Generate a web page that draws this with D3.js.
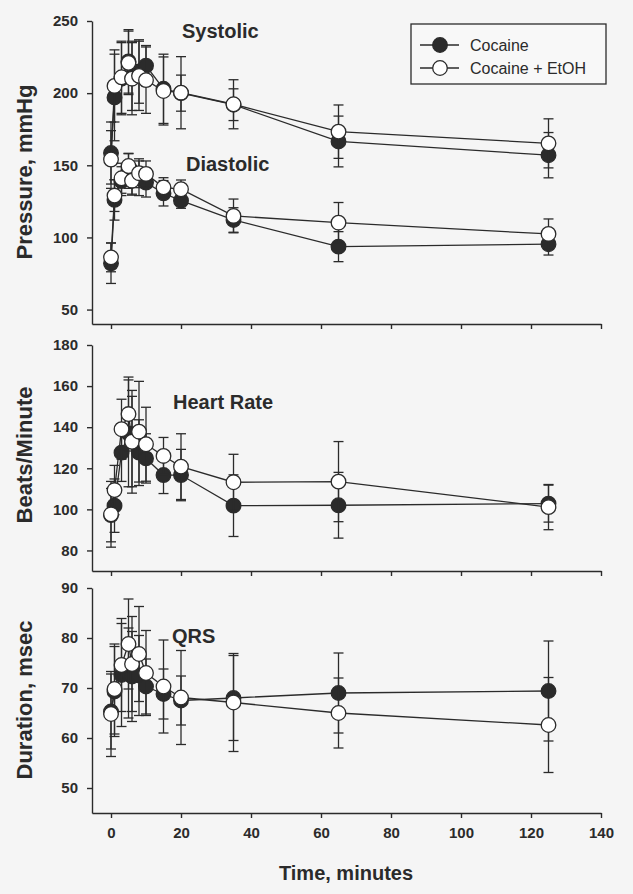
<!DOCTYPE html>
<html><head><meta charset="utf-8">
<script src="https://cdn.jsdelivr.net/npm/d3@7"></script>
<style>
html,body{margin:0;padding:0;background:#f5f5f5;}
svg{display:block;}
</style></head>
<body>
<script>
// ---- data ----
const times = [0, 1, 3, 5, 6, 8, 10, 15, 20, 35, 65, 125];

const sysCoc    = [158.5, 197, 210, 222, 212, 215, 219, 203, 200, 192, 166.5, 157];
const sysCocSD  = [21.5, 30, 25, 22, 24, 22, 14, 24, 12.5, 11, 17.6, 15.7];
const sysEtoh   = [154, 205, 211, 221, 210, 212, 209, 201.5, 200.3, 192.3, 173.3, 165.2];
const sysEtohSD = [20, 25, 25, 22, 25, 24, 23, 23.6, 25, 17, 18.5, 17];

const diaCoc    = [82.1, 126, 139, 146, 140, 141, 138, 130.6, 125.5, 112.1, 93.6, 95.3];
const diaCocSD  = [14, 14, 10, 12, 10, 12, 10, 8.8, 5.3, 8.5, 10.4, 7.5];
const diaEtoh   = [86.2, 129, 141, 149.5, 139.3, 144.5, 144, 134.7, 133.4, 114.9, 110.2, 102.4];
const diaEtohSD = [10, 11, 10.4, 8.8, 10, 10, 9, 6.7, 6.4, 11.7, 14, 10.4];

const hrCoc    = [97.2, 101.8, 127.6, 137, 133, 127.6, 124.8, 116.7, 116.7, 101.8, 102, 102.8];
const hrCocSD  = [13, 13, 14, 26, 22, 16, 12, 9, 12.5, 15, 16, 9];
const hrEtoh   = [97.6, 109.4, 139, 146.4, 132.9, 137.8, 131.7, 126, 120.8, 113.2, 113.5, 101.1];
const hrEtohSD = [16, 12, 14.6, 18, 25, 24.5, 18, 9, 16, 13.6, 19.5, 11];

const qrsCoc    = [65.3, 69.3, 72.6, 73, 72.3, 72.5, 70.3, 68.8, 67.5, 68, 69, 69.4];
const qrsCocSD  = [7.5, 9, 10.3, 9, 9, 8, 5.5, 5, 4.9, 8.5, 8, 10];
const qrsEtoh   = [64.8, 69.8, 74.6, 78.8, 74.8, 76.8, 73, 70.3, 68.1, 67.1, 65, 62.6];
const qrsEtohSD = [8.5, 9, 9.3, 9, 9.5, 9.5, 8.5, 9.3, 9.4, 9.8, 7, 9.5];

const xTicks = [0, 20, 40, 60, 80, 100, 120, 140];
const pressureTicks = [50, 100, 150, 200, 250];
const hrTicks = [80, 100, 120, 140, 160, 180];
const qrsTicks = [50, 60, 70, 80, 90];

const seriesNames = ["Cocaine", "Cocaine + EtOH"];
const panelTitles = ["Pressure, mmHg", "Beats/Minute", "Duration, msec"];
const xTitle = "Time, minutes";

// ---- layout ----
const W = 633, H = 894;
const ink = "#2b2b2b";
const svg = d3.select("body").append("svg").attr("width", W).attr("height", H)
  .style("font-family", "'Liberation Sans', Arial, sans-serif");
svg.append("rect").attr("width", W).attr("height", H).attr("fill", "#f5f5f5");

const x = d3.scaleLinear().domain([-5.43, 140]).range([92, 601]);

const panels = [
  {y: d3.scaleLinear().domain([40, 250]).range([324, 21]), ticks: pressureTicks, title: panelTitles[0], tcy: 172,
   groups: [
     {label: "Systolic", lx: 182, ly: 38, coc: sysCoc, cocSD: sysCocSD, et: sysEtoh, etSD: sysEtohSD},
     {label: "Diastolic", lx: 186, ly: 171, coc: diaCoc, cocSD: diaCocSD, et: diaEtoh, etSD: diaEtohSD}
   ]},
  {y: d3.scaleLinear().domain([70, 180]).range([571, 345]), ticks: hrTicks, title: panelTitles[1], tcy: 455,
   groups: [{label: "Heart Rate", lx: 173, ly: 409, coc: hrCoc, cocSD: hrCocSD, et: hrEtoh, etSD: hrEtohSD}]},
  {y: d3.scaleLinear().domain([45, 90]).range([813, 588]), ticks: qrsTicks, title: panelTitles[2], tcy: 700, last: true,
   groups: [{label: "QRS", lx: 172, ly: 643, coc: qrsCoc, cocSD: qrsCocSD, et: qrsEtoh, etSD: qrsEtohSD}]}
];

function styleAxis(g) {
  g.selectAll("path").attr("stroke", ink).attr("stroke-width", 1.4);
  g.selectAll("line").attr("stroke", ink).attr("stroke-width", 1.4);
  g.selectAll("text").attr("fill", ink).style("font-weight", "bold").style("font-size", "15px")
    .style("font-family", "'Liberation Sans', Arial, sans-serif");
}

const line = (y) => d3.line().x((d) => x(d.t)).y((d) => y(d.v));

function drawSeries(g, y, vals, sds, filled) {
  const data = times.map((t, i) => ({t, v: vals[i], sd: sds[i]}));
  g.append("path").datum(data).attr("d", line(y)).attr("fill", "none")
    .attr("stroke", ink).attr("stroke-width", 1.3);
  const eb = g.append("g").attr("stroke", ink).attr("stroke-width", 1.3);
  data.forEach((d) => {
    const cx = x(d.t), y1 = y(d.v + d.sd), y2 = y(d.v - d.sd);
    eb.append("line").attr("x1", cx).attr("x2", cx).attr("y1", y1).attr("y2", y2);
    eb.append("line").attr("x1", cx - 5).attr("x2", cx + 5).attr("y1", y1).attr("y2", y1);
    eb.append("line").attr("x1", cx - 5).attr("x2", cx + 5).attr("y1", y2).attr("y2", y2);
  });
  g.append("g").selectAll("circle").data(data).join("circle")
    .attr("cx", (d) => x(d.t)).attr("cy", (d) => y(d.v)).attr("r", 7.3)
    .attr("fill", filled ? ink : "#ffffff").attr("stroke", ink).attr("stroke-width", 1.3);
}

panels.forEach((p) => {
  const yr = p.y.range();
  const xa = svg.append("g").attr("transform", `translate(0,${yr[0]})`)
    .call(d3.axisBottom(x).tickValues(xTicks).tickSize(5).tickSizeOuter(0).tickPadding(9)
      .tickFormat(p.last ? d3.format("d") : () => ""));
  styleAxis(xa);
  const ya = svg.append("g").attr("transform", `translate(92,0)`)
    .call(d3.axisLeft(p.y).tickValues(p.ticks).tickSize(5).tickSizeOuter(0).tickPadding(9));
  styleAxis(ya);
  svg.append("text").attr("transform", `translate(32,${p.tcy}) rotate(-90)`)
    .attr("text-anchor", "middle").attr("fill", ink)
    .style("font-family", "'Liberation Sans Narrow', 'Arial Narrow', 'Liberation Sans', sans-serif")
    .style("font-weight", "bold").style("font-size", "22px").text(p.title);
  p.groups.forEach((gr) => {
    const g = svg.append("g");
    drawSeries(g, p.y, gr.coc, gr.cocSD, true);
    drawSeries(g, p.y, gr.et, gr.etSD, false);
    svg.append("text").attr("x", gr.lx).attr("y", gr.ly).attr("fill", ink)
      .style("font-weight", "bold").style("font-size", "20px").text(gr.label);
  });
});

svg.append("text").attr("x", 346).attr("y", 880).attr("text-anchor", "middle").attr("fill", ink)
  .style("font-weight", "bold").style("font-size", "20px").text(xTitle);

const lg = svg.append("g");
lg.append("rect").attr("x", 411).attr("y", 24).attr("width", 195).attr("height", 60)
  .attr("fill", "#f8f8f8").attr("stroke", ink).attr("stroke-width", 1.3);
seriesNames.forEach((name, i) => {
  const cy = 45 + i * 23;
  lg.append("line").attr("x1", 420).attr("x2", 459).attr("y1", cy).attr("y2", cy)
    .attr("stroke", ink).attr("stroke-width", 1.3);
  lg.append("circle").attr("cx", 440).attr("cy", cy).attr("r", 7.3)
    .attr("fill", i === 0 ? ink : "#ffffff").attr("stroke", ink).attr("stroke-width", 1.3);
  lg.append("text").attr("x", 470).attr("y", cy + 5.5).attr("fill", ink)
    .style("font-size", "16px").text(name);
});
</script>
</body></html>
